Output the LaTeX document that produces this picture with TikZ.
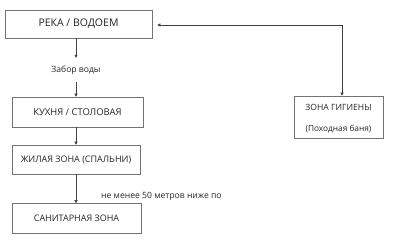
\documentclass[tikz,border=0pt]{standalone}
\usepackage{fontspec}
\setmainfont{Open Sans}
\usetikzlibrary{arrows.meta}
\begin{document}
\begin{tikzpicture}[x=1pt,y=-1pt,
  box/.style={draw=black!55,line width=0.6pt,inner sep=0pt,align=center,text=black!85},
  conn/.style={draw=black!75,line width=0.6pt,-{Triangle[length=3pt,width=3pt]}},
  lbl/.style={inner sep=0pt,text=black!85,font=\fontsize{8.6}{10}\selectfont}]
\useasboundingbox[fill=white] (0,0) rectangle (400,246);
\node[box,minimum width=147,minimum height=28,font=\fontsize{10.5}{12}\selectfont] (river) at (78.5,24) {РЕКА / ВОДОЕМ};
\node[box,minimum width=131,minimum height=30,font=\fontsize{9.4}{10}\selectfont] (kitchen) at (77.5,112) {КУХНЯ / СТОЛОВАЯ};
\node[box,minimum width=128,minimum height=29,font=\fontsize{9}{10}\selectfont] (living) at (76,159.5) {ЖИЛАЯ ЗОНА (СПАЛЬНИ)};
\node[box,minimum width=129,minimum height=30,font=\fontsize{9}{10}\selectfont] (sanit) at (76.5,218.5) {САНИТАРНАЯ ЗОНА};
\node[box,minimum width=89,minimum height=42,font=\fontsize{8.6}{21}\selectfont] (hyg) at (338.5,117) {\rule{0pt}{10.5pt}ЗОНА ГИГИЕНЫ\\{\fontsize{8.3}{21}\selectfont(Походная баня)}};
\node[lbl,minimum height=24] (water) at (76,70) {Забор воды};
\node[lbl,anchor=west] (dist) at (101,196) {не менее 50 метров ниже по};
\draw[conn] (water |- river.south) -- (water.north);
\draw[conn] (water.south) -- (water |- kitchen.north);
\draw[conn] (water |- kitchen.south) -- (water |- living.north);
\draw[conn] (water |- living.south) -- (water |- sanit.north);
\draw[conn,{Triangle[length=3pt,width=3pt]}-{Triangle[length=3pt,width=3pt]}] ([xshift=5pt,yshift=-1pt]river.east) -| ([xshift=3.5pt]hyg.north);
\end{tikzpicture}
\end{document}
